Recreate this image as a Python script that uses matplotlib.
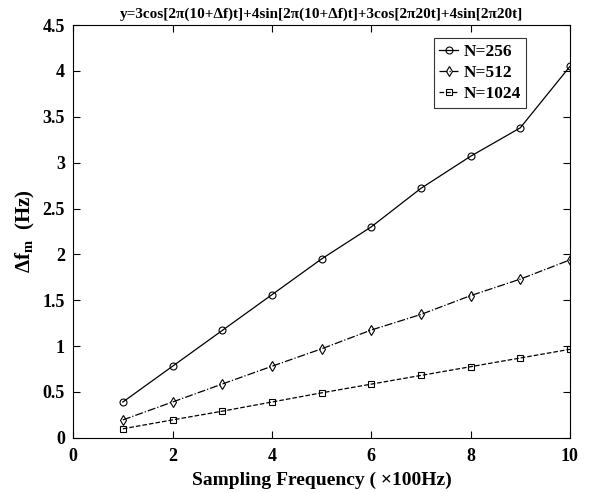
import matplotlib
matplotlib.use("Agg")
import matplotlib.pyplot as plt

plt.rcParams['font.family'] = ['Liberation Serif', 'DejaVu Serif']
plt.rcParams['font.weight'] = 'bold'
plt.rcParams['mathtext.fontset'] = 'custom'
plt.rcParams['mathtext.rm'] = 'Liberation Serif:bold'
plt.rcParams['mathtext.it'] = 'Liberation Serif:bold'
plt.rcParams['mathtext.bf'] = 'Liberation Serif:bold'

# sampling frequency (x100 Hz)
fs = [1, 2, 3, 4, 5, 6, 7, 8, 9, 10]
# measured frequency resolution for each FFT length
df_256 = [0.39, 0.78, 1.17, 1.56, 1.95, 2.30, 2.72, 3.07, 3.38, 4.05]
df_512 = [0.195, 0.39, 0.586, 0.78, 0.97, 1.175, 1.345, 1.55, 1.73, 1.94]
df_1024 = [0.098, 0.195, 0.29, 0.39, 0.49, 0.585, 0.68, 0.775, 0.87, 0.965]

fig = plt.figure(figsize=(5.9, 4.93), dpi=100)
ax = fig.add_axes([0.124, 0.112, 0.842, 0.837])

ax.plot(fs, df_256, 'k-o', lw=0.9, ms=5, mfc='none', mew=0.8, label='N=256')
ax.plot(fs, df_512, 'k-.d', lw=0.9, ms=5, mfc='none', mew=0.8, label='N=512')
ax.plot(fs, df_1024, 'k--s', lw=0.9, ms=4, mfc='none', mew=0.8, label='N=1024')

ax.set_xlim(0, 10)
ax.set_ylim(0, 4.5)
ax.set_xticks([0, 2, 4, 6, 8, 10])
ax.set_yticks([0, 0.5, 1, 1.5, 2, 2.5, 3, 3.5, 4, 4.5])
ax.set_yticklabels(['0', '0.5', '1', '1.5', '2', '2.5', '3', '3.5', '4', '4.5'])
ax.tick_params(direction='in', top=True, right=True, labelsize=13, length=5, width=0.8)
ax.tick_params(axis='x', pad=7)
ax.tick_params(axis='y', pad=6)
for s in ax.spines.values():
    s.set_linewidth(0.8)

ax.set_xlabel('Sampling Frequency ( \u00d7100Hz)', fontsize=14, fontweight='bold', labelpad=5)
ax.set_ylabel(r'$\Delta$f$_\mathrm{m}$  (Hz)', fontsize=15, fontweight='bold')
ax.set_title('y=3cos[2\u03c0(10+\u0394f)t]+4sin[2\u03c0(10+\u0394f)t]+3cos[2\u03c020t]+4sin[2\u03c020t]',
             fontsize=11, fontweight='bold', pad=5)

leg = ax.legend(loc='upper right', bbox_to_anchor=(0.912, 0.968), fontsize=12.5, fancybox=False,
                edgecolor='k', handlelength=1.1, handletextpad=0.3, borderpad=0.3,
                labelspacing=0.3, borderaxespad=0)
leg.get_frame().set_linewidth(0.8)

fig.savefig('out.png', dpi=100)
